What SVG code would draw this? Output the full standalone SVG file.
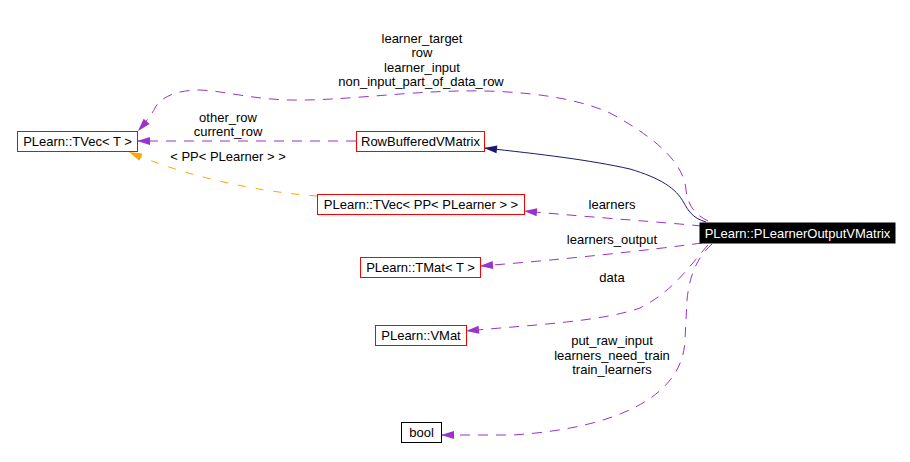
<svg xmlns="http://www.w3.org/2000/svg" width="910" height="462" viewBox="0 0 910 462">
<style>
text{font-family:"Liberation Sans",Arial,sans-serif;font-size:13px;fill:#000;text-anchor:middle}
.box{fill:#fff;stroke:#ff0000;stroke-width:1}
.bbox{fill:#fff;stroke:#000;stroke-width:1}
.sel{fill:#000;stroke:#000}
.sel+text,.selt{fill:#fff}
.e{fill:none;stroke-width:1}
.p{stroke:#9a32cd;stroke-dasharray:10,8;marker-end:url(#ap)}
.o{stroke:#ffa500;stroke-dasharray:8,10;marker-end:url(#ao)}
.n{stroke:#191970;marker-end:url(#an)}
</style>
<defs>
<marker id="ap" markerUnits="userSpaceOnUse" markerWidth="14" markerHeight="9" refX="13" refY="4" orient="auto" overflow="visible"><path d="M0,0 L13,4 L0,8 z" fill="#9a32cd"/></marker>
<marker id="ao" markerUnits="userSpaceOnUse" markerWidth="14" markerHeight="9" refX="13" refY="4" orient="auto" overflow="visible"><path d="M0,0 L13,4 L0,8 z" fill="#ffa500"/></marker>
<marker id="an" markerUnits="userSpaceOnUse" markerWidth="14" markerHeight="9" refX="13" refY="4" orient="auto" overflow="visible"><path d="M0,0 L13,4 L0,8 z" fill="#191970"/></marker>
</defs>
<g id="edges">
<path class="e n" d="M706,222 C692,218 688,210 684,203 C676,188 660,178 630,169 C590,160 540,154 484,148"/>
<path class="e p" d="M708,221 C694,214 688,205 686,190 C684,165 660,140 610,113 C570,95 510,90 460,91 C400,92 340,101 290,100 C250,99 225,91 200,90 C175,90 160,98 155,108 C152,114 146,122 138,131"/>
<text x="422" y="43">learner_target</text>
<text x="422" y="57">row</text>
<text x="422" y="72">learner_input</text>
<text x="421" y="86">non_input_part_of_data_row</text>
<path class="e p" d="M356,141 L137,141"/>
<text x="228" y="122">other_row</text>
<text x="228" y="136">current_row</text>
<path class="e o" d="M317,196 C260,192 190,178 129,152"/>
<text x="228" y="161">&lt; PP&lt; PLearner &gt; &gt;</text>
<path class="e p" d="M702,226 C660,222 600,218 524,211"/>
<text x="612" y="209">learners</text>
<path class="e p" d="M702,243 C650,250 560,260 480,266"/>
<text x="612" y="244">learners_output</text>
<path class="e p" d="M708,245 C690,265 675,290 640,308 C600,322 530,325 466,331"/>
<text x="612" y="282">data</text>
<path class="e p" d="M712,244 C700,255 690,270 687,300 L685,340 C683,395 620,428 513,435 L441,435"/>
<text x="612" y="345">put_raw_input</text>
<text x="612" y="360">learners_need_train</text>
<text x="612" y="374">train_learners</text>
</g>
<g id="node_tvec_t"><rect class="box" x="17.5" y="131.5" width="120" height="20"/><text x="77.5" y="146">PLearn::TVec&lt; T &gt;</text></g>
<g id="node_rowbuffered"><rect class="box" x="356.5" y="131.5" width="128" height="20"/><text x="420.5" y="146">RowBufferedVMatrix</text></g>
<g id="node_tvec_pp"><rect class="box" x="317.5" y="194.5" width="207" height="20"/><text x="421" y="209">PLearn::TVec&lt; PP&lt; PLearner &gt; &gt;</text></g>
<g id="node_tmat"><rect class="box" x="360.5" y="257.5" width="120" height="20"/><text x="420.5" y="272">PLearn::TMat&lt; T &gt;</text></g>
<g id="node_vmat"><rect class="box" x="375.5" y="325.5" width="91" height="20"/><text x="421" y="340">PLearn::VMat</text></g>
<g id="node_bool"><rect class="bbox" x="401.5" y="422.5" width="40" height="20"/><text x="421.5" y="437">bool</text></g>
<g id="node_main"><rect class="sel" x="700" y="223" width="195" height="20"/><text class="selt" x="797.5" y="238">PLearn::PLearnerOutputVMatrix</text></g>
</svg>
